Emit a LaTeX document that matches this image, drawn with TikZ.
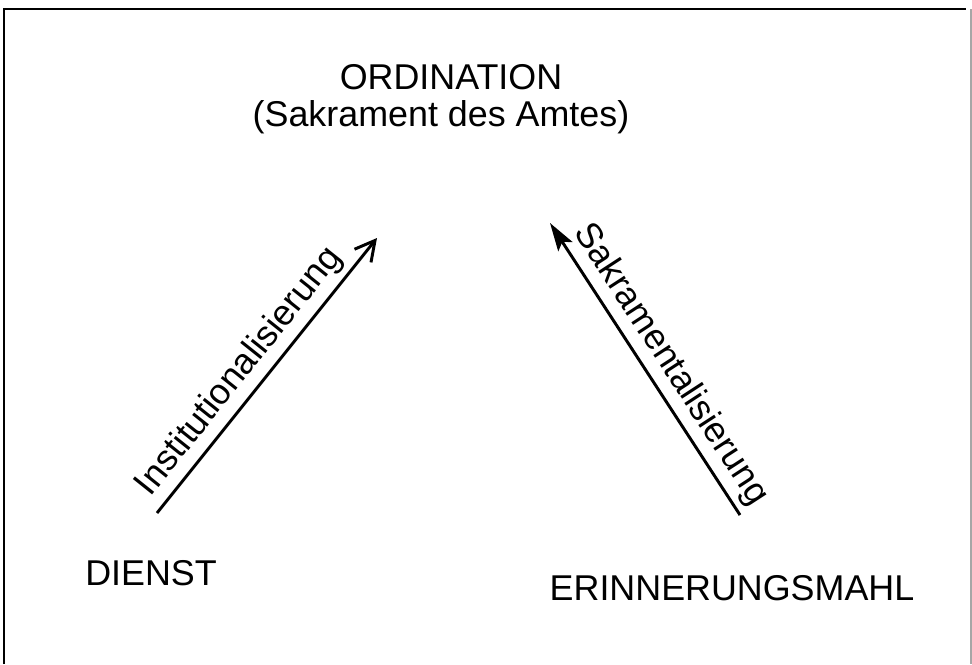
\documentclass[tikz,border=0pt]{standalone}
\usepackage{fontspec}
\setmainfont{Liberation Sans}
\usetikzlibrary{arrows.meta}

\begin{document}
\begin{tikzpicture}[x=0.025cm,y=-0.025cm,
     lbl/.style={font=\fontsize{25.5}{30}\selectfont,inner sep=0pt,anchor=base},
     rl/.style={font=\fontsize{25.5}{30}\selectfont,inner sep=4pt,sloped,above},
     pf/.style={line width=2.1pt}]
  \useasboundingbox (0,0) rectangle (972,664);
  \draw[line width=1.5pt] (4,664) -- (4,9) -- (966,9);
  \draw[line width=1pt,black!35] (971,9) -- (971,664);
  \node[lbl] (ordination) at (451,89) {ORDINATION};
  \node[lbl] (amt) at (441,126) {(Sakrament des Amtes)};
  \node[lbl] (dienst) at (151,585) {DIENST};
  \node[lbl] (mahl) at (732,600) {ERINNERUNGSMAHL};
  \coordinate (d1) at (157,513); \coordinate (o1) at (377,238);
  \coordinate (m1) at (740,515); \coordinate (o2) at (550,223);
  \draw[pf,-{Straight Barb[length=14pt,width=15pt]}] (d1) -- (o1)
     node[rl,pos=0.46] {Institutionalisierung};
  \draw[pf,-{Stealth[length=20pt,width=12pt,inset=4pt]}] (m1) -- (o2)
     node[rl,pos=0.47] {Sakramentalisierung};
\end{tikzpicture}
\end{document}
